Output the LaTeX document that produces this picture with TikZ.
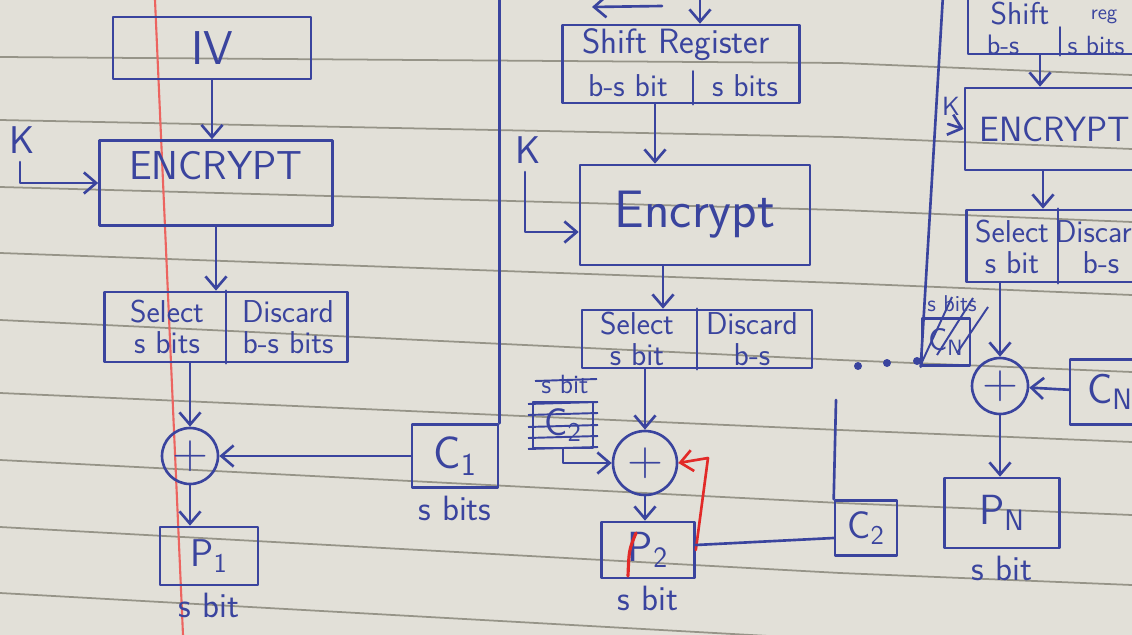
\documentclass[tikz,border=0pt]{standalone}
\usepackage{tikz}
\usetikzlibrary{arrows.meta,positioning}
\definecolor{inkblue}{RGB}{58,68,158}
\definecolor{inkred}{RGB}{226,42,40}
\definecolor{paper}{RGB}{226,224,216}
\definecolor{rulegray}{RGB}{150,148,136}
\definecolor{marginred}{RGB}{236,100,96}
\newcommand{\inkfont}[1]{\sffamily\fontsize{#1}{#1}\selectfont}
\tikzset{
  ink/.style={draw=inkblue,line width=1.5pt,line cap=round,line join=round},
  box/.style={ink,rectangle,inner sep=0pt,text=inkblue,font=\inkfont{20}},
  hand/.style={text=inkblue,font=\inkfont{18},align=center,inner sep=1pt},
  xorc/.style={ink,circle,inner sep=0pt,minimum size=#1,text=inkblue,font=\inkfont{28}},
  flow/.style={ink,-{Straight Barb[length=7pt,width=12pt]}},
  redflow/.style={flow,draw=inkred},
  strike/.style={draw=inkblue,line width=1.1pt},
  ruled/.style={draw=rulegray,line width=1pt},
  marginline/.style={draw=marginred,line width=1.2pt},
  dot/.style={circle,fill=inkblue,inner sep=0pt,minimum size=0.16cm}
}

\begin{document}
\begin{tikzpicture}[x=0.02cm,y=-0.02cm]
  \useasboundingbox (0,0) rectangle (1132,635);
  \clip (0,0) rectangle (1132,635);
  \fill[paper] (0,0) rectangle (1132,635);
  % ruled page
  \foreach \yl/\ym in {57/63,120/137,187/210,253/283,320/360,393/430,460/503,527/573,593/640}
    \draw[ruled] (0,\yl) -- (840,\ym) -- (1132,\ym+12);
  \draw[marginline] (155,0) -- (183,635);

  % first block
  \node[box,minimum width=3.96cm,minimum height=1.24cm,font=\inkfont{27}] (iv) at (212,48) {IV};
  \node[box,minimum width=4.66cm,minimum height=1.7cm] (enc1) at (216,183) {};
  \node[hand,font=\inkfont{23},below=0.2cm of enc1.north] (enc1t) {ENCRYPT};
  \node[hand,font=\inkfont{22}] (k1) at (22,140) {K};
  \coordinate (k1s) at (20,162);
  \node[box,minimum width=4.86cm,minimum height=1.4cm] (sel1) at (226,327) {};
  \node[hand] (sel1l) at (167,327) {Select\\s bits};
  \node[hand] (sel1r) at (288,327) {Discard\\b-s bits};
  \node[xorc=1.12cm] (xor1) at (190,456) {+};
  \node[box,minimum width=1.96cm,minimum height=1.16cm,font=\inkfont{22}] (p1) at (209,556) {P\textsubscript{1}};
  \node[hand,font=\inkfont{20},below=0.1cm of p1] (p1s) {s bit};
  \node[box,minimum width=1.72cm,minimum height=1.26cm,font=\inkfont{26}] (c1) at (455,456) {C\textsubscript{1}};
  \node[hand,font=\inkfont{20},below=0.1cm of c1] (c1s) {s bits};
  \coordinate (fb1) at (500,0);

  \draw[flow] (iv.south) -- (iv.south |- enc1.north);
  \draw[flow] (k1s) |- (enc1.west);
  \draw[flow] (enc1.south) -- (enc1.south |- sel1.north);
  \draw[ink] (sel1.north) -- (sel1.south);
  \draw[flow] (sel1.south -| xor1) -- (xor1);
  \draw[flow] (xor1) -- (xor1 |- p1.north);
  \draw[flow] (c1) -- (xor1);
  \draw[ink] (c1.north east) -- (c1.north east |- fb1);

  % second block
  \coordinate (fbl) at (662,6);
  \coordinate (fbr) at (592,7);
  \coordinate (sr2in) at (700,-10);
  \node[box,minimum width=4.74cm,minimum height=1.56cm] (sr2) at (681,64) {};
  \node[hand,font=\inkfont{20}] (sr2t) at (676,45) {Shift Register};
  \node[hand] (sr2l) at (628,86) {b-s bit};
  \node[hand] (sr2r) at (745,86) {s bits};
  \node[box,minimum width=4.6cm,minimum height=2cm,font=\inkfont{30}] (enc2) at (695,215) {Encrypt};
  \node[hand,font=\inkfont{22}] (k2) at (528,150) {K};
  \coordinate (k2s) at (525,172);
  \node[box,minimum width=4.6cm,minimum height=1.16cm] (sel2) at (697,339) {};
  \node[hand] (sel2l) at (637,339) {Select\\s bit};
  \node[hand] (sel2r) at (752,339) {Discard\\b-s};
  \node[xorc=1.28cm] (xor2) at (645,463) {+};
  \node[box,minimum width=1.2cm,minimum height=0.92cm,font=\inkfont{22}] (cx2) at (563,425) {C\textsubscript{2}};
  \node[hand,font=\inkfont{15}] (cx2s) at (565,384) {s bit};
  \node[box,minimum width=1.86cm,minimum height=1.12cm,font=\inkfont{24}] (p2) at (648,550) {P\textsubscript{2}};
  \node[hand,font=\inkfont{20},below=0.1cm of p2] (p2s) {s bit};
  \node[box,minimum width=1.24cm,minimum height=1.1cm,font=\inkfont{22}] (c2) at (866,528) {C\textsubscript{2}};
  \coordinate (rt) at (708,458);
  \coordinate (c2up) at (836,400);

  \draw[flow] (fbl) -- (fbr);
  \draw[flow] (sr2in) -- (sr2in |- sr2.north);
  \draw[ink] ([xshift=0.24cm]sr2.south) -- ++(0,-33);
  \draw[flow] ([xshift=-0.52cm]sr2.south) -- ([xshift=-0.52cm]sr2.south |- enc2.north);
  \draw[flow] (k2s) |- ([yshift=-0.34cm]enc2.west);
  \draw[flow] ([xshift=-0.64cm]enc2.south) -- ([xshift=-0.64cm]enc2.south |- sel2.north);
  \draw[ink] (sel2.north) -- (sel2.south);
  \draw[flow] (sel2.south -| xor2) -- (xor2);
  \foreach \yy in {404,415,427,438,449}
    \draw[strike] (528,\yy) -- (598,\yy-2);
  \draw[strike] (535,381) -- (597,379);
  \draw[flow] (cx2.south) |- (xor2.west);
  \draw[flow] (xor2) -- (xor2 |- p2.north);
  \draw[draw=inkred,line width=1.8pt,line cap=round] (636,533) .. controls (629,550) .. (628,576);
  \draw[redflow] (p2.east) -- (rt) -- (xor2.east);
  \draw[ink] ([yshift=0.1cm]p2.east) -- ([yshift=-0.2cm]c2.west);
  \draw[ink] (c2.north west) -- (c2up);
  \foreach \xx/\yy [count=\i] in {858/366,887/363,917/361}
    \node[dot] (dot\i) at (\xx,\yy) {};

  % last block
  \coordinate (fb3) at (943,-5);
  \node[box,minimum width=3.68cm,minimum height=1.28cm] (sr3) at (1060,22) {};
  \node[hand,font=\inkfont{18}] (sr3t) at (1020,14) {Shift};
  \node[hand,font=\inkfont{12}] (sr3u) at (1104,17) {reg};
  \node[hand,font=\inkfont{16}] (sr3l) at (1003,45) {b-s};
  \node[hand,font=\inkfont{15}] (sr3r) at (1096,45) {s bits};
  \node[box,minimum width=3.6cm,minimum height=1.64cm] (enc3) at (1055,129) {ENCRYPT};
  \node[hand,font=\inkfont{15}] (k3) at (951,106) {K};
  \coordinate (k3s) at (948,124);
  \node[box,minimum width=3.66cm,minimum height=1.44cm] (sel3) at (1058,246) {};
  \node[hand] (sel3l) at (1012,247) {Select\\s bit};
  \node[hand] (sel3r) at (1101,247) {Discard\\b-s};
  \node[box,minimum width=0.96cm,minimum height=0.94cm,font=\inkfont{18}] (cxN) at (946,342) {C\textsubscript{N}};
  \node[hand,font=\inkfont{13}] (cxNs) at (952,304) {s bits};
  \node[xorc=1.12cm] (xor3) at (1000,386) {+};
  \node[box,minimum width=1.6cm,minimum height=1.3cm,font=\inkfont{24}] (cn) at (1110,392) {C\textsubscript{N}};
  \node[box,minimum width=2.3cm,minimum height=1.4cm,font=\inkfont{24}] (pN) at (1002,513) {P\textsubscript{N}};
  \node[hand,font=\inkfont{20},below=0.1cm of pN] (pNs) {s bit};

  \draw[ink] (fb3) -- (cxN.south west);
  \draw[ink] (sr3.south) -- ++(0,-28);
  \draw[flow] ([xshift=-0.4cm]sr3.south) -- ([xshift=-0.4cm]sr3.south |- enc3.north);
  \draw[flow] (k3s) -- (enc3.west);
  \draw[flow] ([xshift=-0.24cm]enc3.south) -- ([xshift=-0.24cm]enc3.south |- sel3.north);
  \draw[ink] (sel3.north) -- (sel3.south);
  \draw[strike] (922,362) -- (952,297);
  \draw[strike] (937,355) -- (973,298);
  \draw[strike] (957,353) -- (988,307);
  \draw[flow] (sel3.south -| xor3) -- (xor3);
  \draw[flow] (cn) -- (xor3);
  \draw[flow] (xor3) -- (xor3 |- pN.north);
\end{tikzpicture}
\end{document}
